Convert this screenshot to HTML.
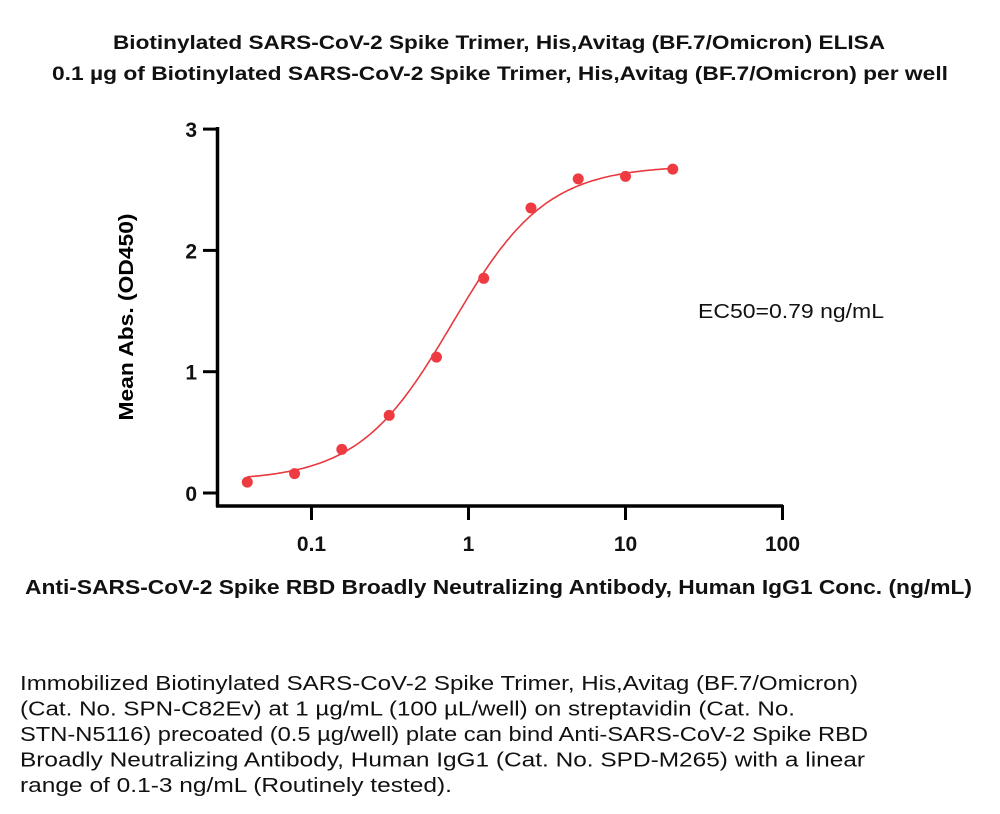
<!DOCTYPE html>
<html><head><meta charset="utf-8"><style>
body{margin:0;background:#fff;width:1000px;height:814px;overflow:hidden;font-family:"Liberation Sans",sans-serif}
</style></head><body>
<svg id="c" width="1000" height="814" style="position:absolute;left:0;top:0"></svg>
<script>
const conc=[0.039,0.078,0.156,0.3125,0.625,1.25,2.5,5,10,20];
const od=[0.09,0.16,0.36,0.64,1.12,1.77,2.35,2.59,2.61,2.67];
const yTicks=[0,1,2,3];
const xTicks=[0.1,1,10,100];
const xTickLabels=["0.1","1","10","100"];
const fitParams=[0.10,2.70,0.79,1.45];
const NS="http://www.w3.org/2000/svg";
const svg=document.getElementById('c');
const X=v=>468.5+157*Math.log10(v);
const Y=v=>493-121.3*v;
function mk(t,a,p){const e=document.createElementNS(NS,t);for(const k in a)e.setAttribute(k,a[k]);(p||svg).appendChild(e);return e;}
function txt(s,x,y,size,bold,len,anchor){const a={x:x,y:y,'font-size':size,'font-family':'Liberation Sans',fill:'#111'};if(bold)a['font-weight']='bold';if(len){a.textLength=len;a.lengthAdjust='spacingAndGlyphs';}if(anchor)a['text-anchor']=anchor;const e=mk('text',a);e.textContent=s;return e;}
let e=txt('Biotinylated SARS-CoV-2 Spike Trimer, His,Avitag (BF.7/Omicron) ELISA',113,49,19,true,772);

e=txt('0.1 µg of Biotinylated SARS-CoV-2 Spike Trimer, His,Avitag (BF.7/Omicron) per well',52,80,19,true,896);

e=mk('line',{x1:217.5,y1:127,x2:217.5,y2:507,stroke:'#000','stroke-width':3.5});

e=mk('line',{x1:216,y1:506,x2:783,y2:506,stroke:'#000','stroke-width':3.5});

yTicks.forEach(v=>{
 e=mk('line',{x1:203,y1:Y(v),x2:218,y2:Y(v),stroke:'#000','stroke-width':3});
 
 e=txt(String(v),197,Y(v)+8,21,true,null,'end');
 
});
xTicks.forEach((v,i)=>{
 e=mk('line',{x1:X(v),y1:505,x2:X(v),y2:520,stroke:'#000','stroke-width':3});
 
 e=txt(xTickLabels[i],X(v),551,21,true,null,'middle');
 
});
const [b,t,ec,h]=fitParams;let d='';
for(let i=0;i<=200;i++){const lx=Math.log10(conc[0])+i*(Math.log10(conc[conc.length-1])-Math.log10(conc[0]))/200;const x=Math.pow(10,lx);const y=b+(t-b)/(1+Math.pow(ec/x,h));d+=(i?'L':'M')+X(x).toFixed(1)+' '+Y(y).toFixed(1);}
e=mk('path',{d:d,fill:'none',stroke:'#e8393f','stroke-width':1.6});

conc.forEach((c,i)=>{
 e=mk('circle',{cx:X(c),cy:Y(od[i]),r:5.5,fill:'#ee3b41'});
 
});
e=txt('EC50=0.79 ng/mL',698,318,20,false,186);

e=mk('text',{x:0,y:0,'font-size':20,'font-weight':'bold','font-family':'Liberation Sans','text-anchor':'middle',textLength:207,lengthAdjust:'spacingAndGlyphs',transform:'translate(133,317) rotate(-90)'});e.textContent='Mean Abs. (OD450)';

e=txt('Anti-SARS-CoV-2 Spike RBD Broadly Neutralizing Antibody, Human IgG1 Conc. (ng/mL)',25,594,20,true,947);

const descLines=['Immobilized Biotinylated SARS-CoV-2 Spike Trimer, His,Avitag (BF.7/Omicron)','(Cat. No. SPN-C82Ev) at 1 µg/mL (100 µL/well) on streptavidin (Cat. No.','STN-N5116) precoated (0.5 µg/well) plate can bind Anti-SARS-CoV-2 Spike RBD','Broadly Neutralizing Antibody, Human IgG1 (Cat. No. SPD-M265) with a linear','range of 0.1-3 ng/mL (Routinely tested).'];
const descLens=[838,775,848,845,432];
descLines.forEach((s,i)=>{
 e=txt(s,20,690+i*25.5,20,false,descLens[i]);
 
});
</script>
</body></html>
